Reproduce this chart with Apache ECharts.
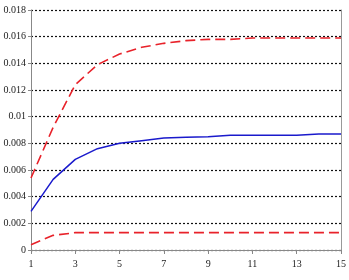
<!DOCTYPE html>
<html>
<head>
<meta charset="utf-8">
<script src="https://cdn.jsdelivr.net/npm/echarts@6/dist/echarts.min.js"></script>
<style>
  html, body { margin: 0; padding: 0; background: #fff; }
  #chart { width: 349px; height: 280px; }
</style>
</head>
<body>
<div id="chart"></div>
<script>
// horizon 1..15
var periods = ['1','2','3','4','5','6','7','8','9','10','11','12','13','14','15'];
// upper band (red dashed)
var upperBand = [0.0054, 0.0092, 0.0124, 0.0139, 0.0147, 0.0152, 0.0155, 0.0157, 0.0158, 0.0158, 0.0159, 0.0159, 0.0159, 0.0159, 0.0159];
// point estimate (blue)
var response = [0.0029, 0.0053, 0.0068, 0.0076, 0.0080, 0.0082, 0.0084, 0.00845, 0.0085, 0.0086, 0.0086, 0.0086, 0.0086, 0.0087, 0.0087];
// lower band (red dashed)
var lowerBand = [0.0004, 0.0011, 0.0013, 0.0013, 0.0013, 0.0013, 0.0013, 0.0013, 0.0013, 0.0013, 0.0013, 0.0013, 0.0013, 0.0013, 0.0013];

var myChart = echarts.init(document.getElementById('chart'));
var labelFont = { fontFamily: 'Liberation Serif', fontSize: 10, color: '#222' };

var option = {
    animation: false,
    grid: { left: 31, right: 7, top: 10, bottom: 30 },
    xAxis: {
        type: 'category',
        data: periods,
        boundaryGap: false,
        axisLine: { lineStyle: { color: '#888', width: 1 } },
        axisTick: { show: true, interval: 1, length: 4, lineStyle: { color: '#888' } },
        axisLabel: Object.assign({ interval: 1, margin: 9 }, labelFont),
        splitLine: { show: false }
    },
    yAxis: [{
        type: 'value',
        min: 0,
        max: 0.018,
        interval: 0.002,
        axisLine: { show: true, lineStyle: { color: '#888', width: 1 } },
        axisTick: { show: true, length: 3, lineStyle: { color: '#888' } },
        axisLabel: Object.assign({ margin: 5, formatter: function (v) { return String(+v.toFixed(3)); } }, labelFont),
        splitLine: { show: true, lineStyle: { color: '#111', type: [2, 2], width: 1.2 } }
    }, {
        // right frame line
        type: 'value',
        position: 'right',
        min: 0,
        max: 0.018,
        axisLine: { show: true, lineStyle: { color: '#999', width: 1 } },
        axisTick: { show: false },
        axisLabel: { show: false },
        splitLine: { show: false }
    }],
    series: [{
        name: 'upper',
        type: 'line',
        data: upperBand,
        symbol: 'none',
        lineStyle: { color: '#e8222a', width: 1.6, type: [10, 5] },
        z: 3
    }, {
        name: 'response',
        type: 'line',
        data: response,
        symbol: 'none',
        lineStyle: { color: '#1a1acc', width: 1.5 },
        z: 4
    }, {
        name: 'lower',
        type: 'line',
        data: lowerBand,
        symbol: 'none',
        lineStyle: { color: '#e8222a', width: 1.6, type: [10, 5] },
        z: 3
    }]
};

myChart.setOption(option);
window.addEventListener('resize', function () {
    myChart.resize();
});
</script>
</body>
</html>
